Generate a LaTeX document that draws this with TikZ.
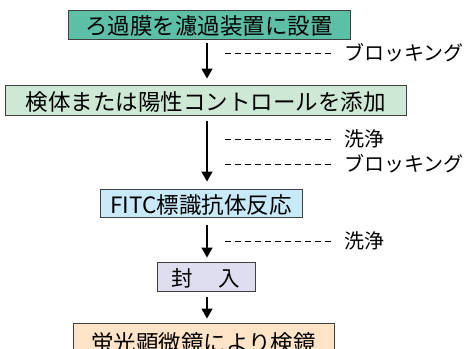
\documentclass[tikz,border=0pt]{standalone}
\usepackage{fontspec}
\setmainfont{Noto Sans CJK JP}
\usetikzlibrary{arrows.meta}
\definecolor{cA}{HTML}{5CBFA6}
\definecolor{cB}{HTML}{CDE9D5}
\definecolor{cC}{HTML}{C8EAF8}
\definecolor{cD}{HTML}{DEDEF0}
\definecolor{cE}{HTML}{FFE4C8}
\definecolor{bd}{HTML}{404040}
\begin{document}
\begin{tikzpicture}[x=1pt,y=-1pt,
  box/.style={draw=bd,line width=0.9pt,inner sep=0pt,align=center,
    font=\fontsize{22.5}{24}\selectfont,text height=20pt,text depth=0pt},
  flow/.style={line width=1.5pt,-{Triangle[width=11pt,length=10pt]}},
  dash line/.style={line width=0.8pt,dash pattern=on 6pt off 4pt},
  lab/.style={anchor=west,inner sep=0pt,font=\fontsize{20}{22}\selectfont,text height=16pt,text depth=0.8pt}]
\useasboundingbox (0,0) rectangle (470,348);
\clip (0,0) rectangle (470,348);
\fill[white] (0,0) rectangle (470,348);
\coordinate (ax) at (207,0);
\node[box,fill=cA,minimum width=282pt,minimum height=29pt] (b1) at (209,24.5) {ろ過膜を濾過装置に設置};
\node[box,fill=cB,minimum width=401pt,minimum height=30pt] (b2) at (205.5,100) {検体または陽性コントロールを添加};
\node[box,fill=cC,minimum width=202pt,minimum height=28pt] (b3) at (201,203) {FITC標識抗体反応};
\node[box,fill=cD,minimum width=98pt,minimum height=29pt,font=\fontsize{21.5}{24}\selectfont] (b4) at (206,276.5) {封\hspace{26pt}入};
\node[box,fill=cE,minimum width=261pt,minimum height=36pt] (b5) at (203.5,341) {蛍光顕微鏡により検鏡};
\draw[flow,shorten <=4pt,shorten >=6pt] (b1.south -| ax) -- (b2.north -| ax);
\draw[flow,shorten <=6pt,shorten >=7pt] (b2.south -| ax) -- (b3.north -| ax);
\draw[flow,shorten <=8pt,shorten >=4pt] (b3.south -| ax) -- (b4.north -| ax);
\draw[flow,shorten <=6pt,shorten >=4pt] (b4.south -| ax) -- (b5.north -| ax);
\node[lab] (l1) at (344,53) {ブロッキング};
\node[lab] (l2) at (344,139) {洗浄};
\node[lab] (l3) at (344,164) {ブロッキング};
\node[lab] (l4) at (344,241) {洗浄};
\coordinate (d1) at (225,53);
\coordinate (d2) at (225,139);
\coordinate (d3) at (225,164);
\coordinate (d4) at (225,241);
\draw[dash line] (d1) -- ([xshift=-10pt]l1.west);
\draw[dash line] (d2) -- ([xshift=-10pt]l2.west);
\draw[dash line] (d3) -- ([xshift=-10pt]l3.west);
\draw[dash line] (d4) -- ([xshift=-10pt]l4.west);
\end{tikzpicture}
\end{document}
